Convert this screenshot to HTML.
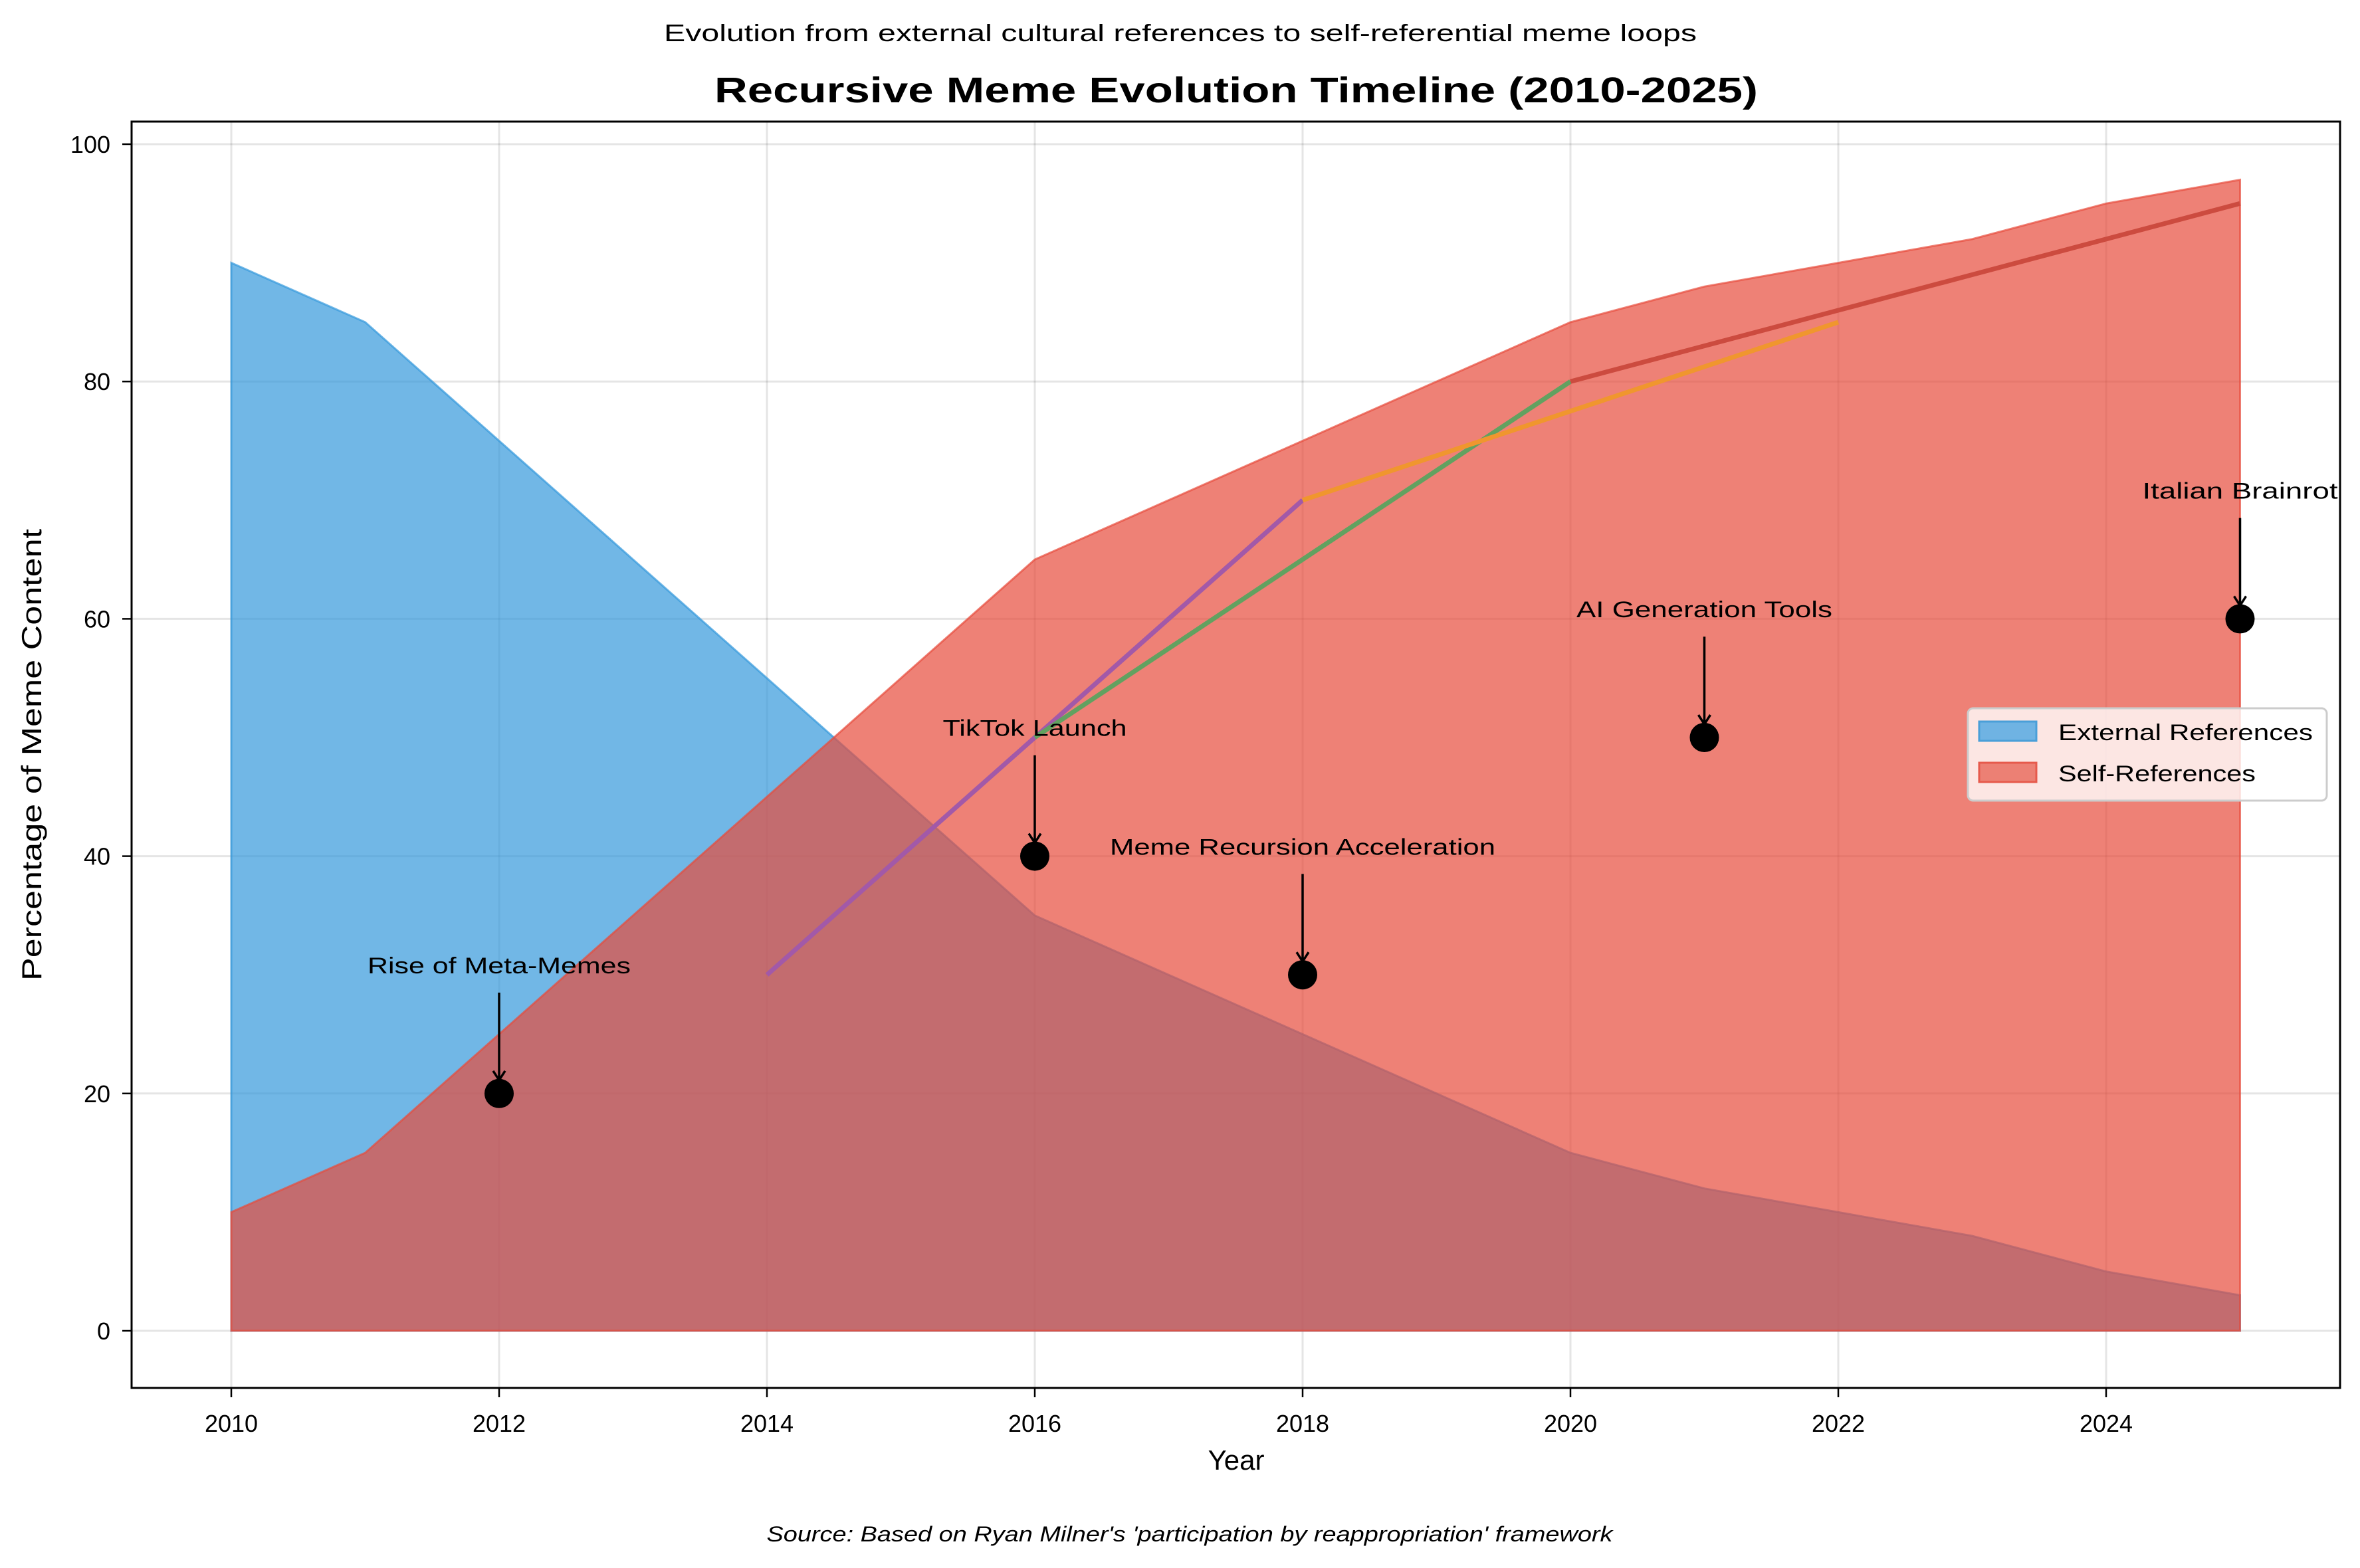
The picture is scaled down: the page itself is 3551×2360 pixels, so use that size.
<!DOCTYPE html>
<html><head><meta charset="utf-8"><style>
html,body{margin:0;padding:0;background:#fff;}
svg{display:block;font-family:"Liberation Sans",sans-serif;}
</style></head><body>
<svg id="chart" width="3551" height="2360" viewBox="0 0 3551 2360">
<text x="1776" y="62" font-size="36" text-anchor="middle" textLength="1554" lengthAdjust="spacingAndGlyphs">Evolution from external cultural references to self-referential meme loops</text>
<text x="1860" y="154" font-size="54" font-weight="bold" text-anchor="middle" textLength="1570" lengthAdjust="spacingAndGlyphs">Recursive Meme Evolution Timeline (2010-2025)</text>
<g id="grid"></g>
<g id="areas"></g>
<g id="lines"></g>
<g id="annos"></g>
<rect x="198" y="183" width="3323" height="1906" fill="none" stroke="#000" stroke-width="3"/>
<g id="ticks"></g>
<text x="1860" y="2212" font-size="42" text-anchor="middle">Year</text>
<text transform="translate(62,1136) rotate(-90)" font-size="42" text-anchor="middle" textLength="680" lengthAdjust="spacingAndGlyphs">Percentage of Meme Content</text>
<text x="1790" y="2320" font-size="32" font-style="italic" text-anchor="middle" textLength="1273" lengthAdjust="spacingAndGlyphs">Source: Based on Ryan Milner's 'participation by reappropriation' framework</text>
<g>
<rect x="2961" y="1066" width="540" height="139" rx="8" fill="#fff" fill-opacity="0.8" stroke="#ccc" stroke-width="3"/>
<rect x="2978" y="1086" width="86" height="29" fill="#6fb3e3" stroke="#4a9fd8" stroke-width="3"/>
<text x="3097" y="1114" font-size="34" textLength="383" lengthAdjust="spacingAndGlyphs">External References</text>
<rect x="2978" y="1148" width="86" height="29" fill="#ec8074" stroke="#e65a4c" stroke-width="3"/>
<text x="3097" y="1176" font-size="34" textLength="297" lengthAdjust="spacingAndGlyphs">Self-References</text>
</g>
</svg>
<script>
const years=[2010,2011,2012,2013,2014,2015,2016,2017,2018,2019,2020,2021,2022,2023,2024,2025];
const externalRefs=[90,85,75,65,55,45,35,30,25,20,15,12,10,8,5,3];
const selfRefs=[10,15,25,35,45,55,65,70,75,80,85,88,90,92,95,97];
const xTicks=[2010,2012,2014,2016,2018,2020,2022,2024];
const yTicks=[0,20,40,60,80,100];
const phaseNames=['phase-early','phase-mid','phase-late','phase-recent'];
const phaseYears=[[2014,2016,2018],[2016,2018,2020],[2018,2020,2022],[2020,2022,2025]];
const phaseValues=[[30,50,70],[50,65,80],[70,77.5,85],[80,86,95]];
const phaseColors=['#a259a8','#62a160','#f0962e','#cc4b3f'];
const eventLabels=['Rise of Meta-Memes','TikTok Launch','Meme Recursion Acceleration','AI Generation Tools','Italian Brainrot'];
const eventYears=[2012,2016,2018,2021,2025];
const eventValues=[20,40,30,50,60];
const eventLabelWidths=[396,277,580,385,294];

const NS='http://www.w3.org/2000/svg';
const X=y=>348+(y-2010)*201.5;
const Y=v=>2003-v*17.86;
function mk(tag,attrs,parent){const e=document.createElementNS(NS,tag);for(const k in attrs)e.setAttribute(k,attrs[k]);document.getElementById(parent).appendChild(e);return e;}

xTicks.forEach(t=>{
 const g=mk('line',{x1:X(t),x2:X(t),y1:183,y2:2089,stroke:'#000','stroke-opacity':0.1,'stroke-width':3},'grid');
 
 
 const tk=mk('line',{x1:X(t),x2:X(t),y1:2089,y2:2103,stroke:'#000','stroke-width':2.5},'ticks');
 
 
 const lb=mk('text',{x:X(t),y:2155,'font-size':36,'text-anchor':'middle'},'ticks');
 lb.textContent=t;
 
 
});
yTicks.forEach(t=>{
 const g=mk('line',{x1:198,x2:3521,y1:Y(t),y2:Y(t),stroke:'#000','stroke-opacity':0.1,'stroke-width':3},'grid');
 
 
 const tk=mk('line',{x1:184,x2:198,y1:Y(t),y2:Y(t),stroke:'#000','stroke-width':2.5},'ticks');
 
 
 const lb=mk('text',{x:166,y:Y(t)+13,'font-size':36,'text-anchor':'end'},'ticks');
 lb.textContent=t;
 
 
});
function areaPath(vals){let d='M'+X(years[0])+','+Y(0);years.forEach((y,i)=>d+=' L'+X(y)+','+Y(vals[i]));d+=' L'+X(years[years.length-1])+','+Y(0)+' Z';return d;}
const a1=mk('path',{d:areaPath(externalRefs),fill:'#3498db','fill-opacity':0.7,stroke:'#3498db','stroke-opacity':0.7,'stroke-width':3},'areas');


const a2=mk('path',{d:areaPath(selfRefs),fill:'#e74c3c','fill-opacity':0.7,stroke:'#e74c3c','stroke-opacity':0.7,'stroke-width':3},'areas');


phaseYears.forEach((ys,i)=>{
 const pts=ys.map((y,j)=>X(y)+','+Y(phaseValues[i][j])).join(' ');
 const l=mk('polyline',{points:pts,fill:'none',stroke:phaseColors[i],'stroke-width':7},'lines');
 
 
});
eventLabels.forEach((lab,i)=>{
 const cx=X(eventYears[i]),cy=Y(eventValues[i]);
 const t=mk('text',{x:cx,y:Y(eventValues[i]+10.8)+12,'font-size':34,'text-anchor':'middle',textLength:eventLabelWidths[i],lengthAdjust:'spacingAndGlyphs'},'annos');
 t.textContent=lab;
 
 
 const ar=mk('path',{d:'M'+cx+','+Y(eventValues[i]+8.5)+' L'+cx+','+(cy-20)+' M'+(cx-9)+','+(cy-34)+' L'+cx+','+(cy-20)+' L'+(cx+9)+','+(cy-34),fill:'none',stroke:'#000','stroke-width':3.5},'annos');
 
 
 const c=mk('circle',{cx:cx,cy:cy,r:22,fill:'#000'},'annos');
 
 
});
</script>
</body></html>
